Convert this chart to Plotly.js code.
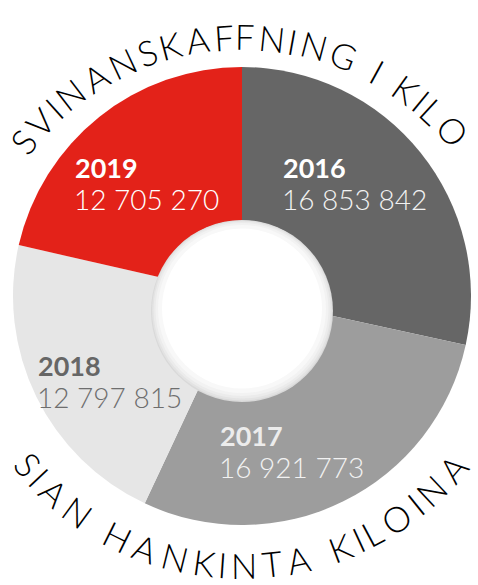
<!DOCTYPE html>
<html>
<head>
<meta charset="utf-8">
<script src="https://cdn.plot.ly/plotly-3.0.1.min.js"></script>
<style>html,body{margin:0;padding:0;background:#fff;}#chart{width:478px;height:585px;}</style>
</head>
<body>
<div id="chart"></div>
<script>
// ---- data ----
const years = ['2016', '2017', '2018', '2019'];
const kilos = [16853842, 16921773, 12797815, 12705270];
const sliceColors = ['#666666', '#9d9d9d', '#e6e6e6', '#e32219'];
const yearColors = ['#ffffff', '#ececec', '#666666', '#ffffff'];
const numColors = ['#f2f2f2', '#f2f2f2', '#6e6e6e', '#ffffff'];
const topTitle = 'SVINANSKAFFNING I KILO';
const bottomTitle = 'SIAN HANKINTA KILOINA';

// ---- layout helpers ----
const W = 478, H = 585;
const px = x => x / W;
const py = y => 1 - y / H;
const fmt = n => String(n).replace(/\B(?=(\d{3})+(?!\d))/g, ' ');

// label anchor positions (px, left edge / vertical centre of year line)
const labelPos = [[283, 167], [220, 435], [38, 365], [75, 167]];

const annotations = [];
years.forEach((yr, i) => {
  const [lx, ly] = labelPos[i];
  annotations.push({
    xref: 'paper', yref: 'paper', x: px(lx - 2), y: py(ly), xanchor: 'left', yanchor: 'middle',
    showarrow: false, text: '<b>' + yr + '</b>',
    font: {family: 'Lato, "Open Sans", sans-serif', size: 27, weight: 900, color: yearColors[i]}
  });
  annotations.push({
    xref: 'paper', yref: 'paper', x: px(lx - 3), y: py(ly + 32), xanchor: 'left', yanchor: 'middle',
    showarrow: false, text: fmt(kilos[i]),
    font: {family: 'Lato, "Open Sans", sans-serif', size: 28, weight: 300, color: numColors[i]}
  });
});

// curved text
const cw = {S: .58, V: .72, I: .3, N: .8, A: .78, K: .68, F: .56, G: .86, L: .52, O: .9, H: .8, T: .62, ' ': .38};
function arcText(text, cx, cy, r, a0, a1, isTop) {
  const chars = text.split('');
  const w = chars.map(c => cw[c] || .6);
  const centers = [];
  let acc = 0;
  w.forEach(v => { centers.push(acc + v / 2); acc += v; });
  const c0 = centers[0], c1 = centers[centers.length - 1];
  chars.forEach((ch, i) => {
    if (ch === ' ') return;
    const a = a0 + (a1 - a0) * (centers[i] - c0) / (c1 - c0);
    const rad = a * Math.PI / 180;
    let x, y, ang;
    if (isTop) { x = cx + r * Math.sin(rad); y = cy - r * Math.cos(rad); ang = a; }
    else { x = cx + r * Math.sin(rad); y = cy + r * Math.cos(rad); ang = -a; }
    annotations.push({
      xref: 'paper', yref: 'paper', x: px(x), y: py(y), xanchor: 'center', yanchor: 'middle',
      showarrow: false, text: ch, textangle: ang, borderpad: 0,
      font: {family: 'Lato, "Noto Sans", sans-serif', size: 35, weight: 300, color: '#000000'}
    });
  });
}
arcText(topTitle, 242, 318, 282, -51, 48.3, true);
arcText(bottomTitle, 242, 288, 277, -50.5, 49.5, false);

// hole with soft shading
const holeRings = [
  [91, 311, '#d9d9d9'], [90, 310.5, '#e3e3e3'], [88.5, 310, '#ebebeb'],
  [86.5, 309.5, '#f2f2f2'], [84, 309, '#f8f8f8'], [80, 308.5, '#ffffff']
];
const shapes = holeRings.map(([r, cy, c]) => ({
  type: 'circle', xref: 'paper', yref: 'paper', layer: 'above',
  x0: px(242 - r), x1: px(242 + r), y0: py(cy + r), y1: py(cy - r),
  fillcolor: c, line: {width: 0}
}));

const cx = 242, cy = 296, R = 229;
const data = [{
  type: 'pie', labels: years, values: kilos, sort: false, direction: 'clockwise', rotation: 0,
  marker: {colors: sliceColors, line: {width: 0}}, textinfo: 'none', hoverinfo: 'label+value',
  domain: {x: [px(cx - R), px(cx + R)], y: [py(cy + R), py(cy - R)]}, showlegend: false
}];

const layout = {
  width: W, height: H, margin: {l: 0, r: 0, t: 0, b: 0},
  paper_bgcolor: '#ffffff', plot_bgcolor: '#ffffff', showlegend: false,
  annotations: annotations, shapes: shapes
};
Plotly.newPlot('chart', data, layout, {displayModeBar: false, staticPlot: true});
</script>
</body>
</html>
